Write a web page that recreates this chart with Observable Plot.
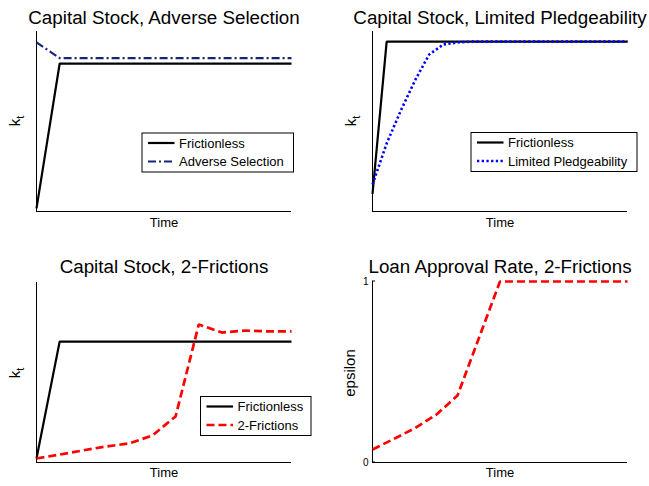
<!DOCTYPE html>
<html>
<head>
<meta charset="utf-8">
<script src="https://cdn.jsdelivr.net/npm/d3@7"></script>
<script src="https://cdn.jsdelivr.net/npm/@observablehq/plot@0.6"></script>
<style>
  body { margin: 0; background: #fff; }
  #wrap { position: relative; width: 649px; height: 486px; font-family: "Liberation Sans", Arial, Helvetica, sans-serif; }
  .panel { position: absolute; }
</style>
</head>
<body>
<div id="wrap"></div>
<script>
// ---- Data (normalized vertical units) ----
const time1 = [0, 1, 2, 3, 4, 5, 6, 7, 8, 9, 10, 11];
const frictionless1 = [0.017, 0.822, 0.822, 0.822, 0.822, 0.822, 0.822, 0.822, 0.822, 0.822, 0.822, 0.822];
const adverseSelection = [0.94, 0.852, 0.852, 0.852, 0.852, 0.852, 0.852, 0.852, 0.852, 0.852, 0.852, 0.852];

const time2 = [0, 1, 2, 3, 4, 5, 6, 7, 8, 9, 10, 11, 12, 13, 14, 15, 16, 17, 18];
const frictionless2 = [0.098, 0.944, 0.944, 0.944, 0.944, 0.944, 0.944, 0.944, 0.944, 0.944, 0.944, 0.944, 0.944, 0.944, 0.944, 0.944, 0.944, 0.944, 0.944];
const limitedPledgeability = [0.15, 0.378, 0.561, 0.728, 0.872, 0.928, 0.939, 0.944, 0.944, 0.944, 0.944, 0.944, 0.944, 0.944, 0.944, 0.944, 0.944, 0.944, 0.944];

const time3 = [0, 1, 2, 3, 4, 5, 6, 7, 8, 9, 10, 11];
const frictionless3 = [0.022, 0.672, 0.672, 0.672, 0.672, 0.672, 0.672, 0.672, 0.672, 0.672, 0.672, 0.672];
const twoFrictions = [0.022, 0.044, 0.067, 0.089, 0.106, 0.15, 0.256, 0.767, 0.722, 0.733, 0.728, 0.728];

const time4 = [0, 1, 2, 3, 4, 5, 6, 7, 8, 9, 10, 11, 12];
const epsilon = [0.072, 0.13, 0.19, 0.264, 0.37, 0.685, 1, 1, 1, 1, 1, 1, 1];
const epsilonTicks = [0, 1];

const titles = ["Capital Stock, Adverse Selection", "Capital Stock, Limited Pledgeability", "Capital Stock, 2-Frictions", "Loan Approval Rate, 2-Frictions"];

// ---- Styles ----
const FONT = "Liberation Sans, Arial, Helvetica, sans-serif";
const S_FRIC = {stroke: "black", strokeWidth: 2.2, strokeLinejoin: "miter", strokeLinecap: "butt"};
const S_ADV = {stroke: "#16247a", strokeWidth: 2.2, strokeDasharray: "8,3,2,3", strokeLinecap: "butt"};
const S_PLEDGE = {stroke: "#0000ff", strokeWidth: 2.6, strokeDasharray: "2.3,2.4", strokeLinecap: "butt"};
const S_TWO = {stroke: "#ff0000", strokeWidth: 2.7, strokeDasharray: "8,4", strokeLinecap: "butt", strokeLinejoin: "miter"};

const wrap = document.getElementById("wrap");

function place(svg, left, top) {
  svg.classList.add("panel");
  svg.style.left = left + "px";
  svg.style.top = top + "px";
  wrap.appendChild(svg);
}

function yLabel(svg, x, y, main, sub) {
  const t = d3.select(svg).append("text")
    .attr("transform", `translate(${x},${y}) rotate(-90)`)
    .attr("text-anchor", "middle")
    .attr("font-family", FONT)
    .attr("font-size", 15)
    .attr("fill", "black");
  t.append("tspan").text(main);
  if (sub) t.append("tspan").attr("font-size", 11).attr("dy", 4).text(sub);
}

function legend(svg, x, y, w, h, items) {
  const g = d3.select(svg).append("g").attr("text-anchor", "start");
  g.append("rect").attr("x", x + 0.5).attr("y", y + 0.5).attr("width", w).attr("height", h)
    .attr("fill", "white").attr("stroke", "black").attr("stroke-width", 1);
  items.forEach((it, i) => {
    const ry = y + 10.5 + i * 18.5;
    const s = it.style;
    g.append("line").attr("x1", x + 6.5).attr("x2", x + 33).attr("y1", ry).attr("y2", ry)
      .attr("stroke", s.stroke).attr("stroke-width", s.strokeWidth)
      .attr("stroke-dasharray", s.strokeDasharray || null).attr("stroke-linecap", "butt");
    g.append("text").attr("x", x + 37.5).attr("y", ry).attr("dy", "0.36em")
      .attr("text-anchor", "start")
      .attr("font-family", FONT).attr("font-size", 13).attr("fill", "black").text(it.label);
  });
}

function basePanel({width, height, ml, mr, mt, mb, xdom, marks, yAxisMarks = [], titleDy, timeDy, title}) {
  return Plot.plot({
    width, height,
    marginLeft: ml, marginRight: mr, marginTop: mt, marginBottom: mb,
    x: {domain: xdom, axis: null},
    y: {domain: [0, 1], axis: yAxisMarks.length ? undefined : null},
    style: {fontFamily: FONT, background: "transparent", color: "black", overflow: "visible"},
    marks: [
      Plot.ruleX([xdom[0]], {stroke: "black", strokeWidth: 1}),
      Plot.ruleY([0], {stroke: "black", strokeWidth: 1}),
      ...yAxisMarks,
      ...marks,
      Plot.text([title], {text: d => d, frameAnchor: "top", lineAnchor: "bottom", dy: titleDy, fontSize: 18.8, fill: "black"}),
      Plot.text(["Time"], {text: d => d, frameAnchor: "bottom", lineAnchor: "bottom", dy: timeDy, fontSize: 13, fill: "black"})
    ]
  });
}

// Panel 1
const p1 = basePanel({
  width: 325, height: 243, ml: 36, mr: 34, mt: 31, mb: 32, xdom: [0, 11],
  title: titles[0], titleDy: -8, timeDy: 15.5,
  marks: [
    Plot.lineY(frictionless1, {x: time1, ...S_FRIC}),
    Plot.lineY(adverseSelection, {x: time1, ...S_ADV})
  ]
});
place(p1, 0, 0);
yLabel(p1, 20, 121, "k", "t");
legend(p1, 141.5, 132.5, 151.5, 39, [{label: "Frictionless", style: S_FRIC}, {label: "Adverse Selection", style: S_ADV}]);

// Panel 2
const p2 = basePanel({
  width: 324, height: 243, ml: 47, mr: 22, mt: 31, mb: 32, xdom: [0, 18],
  title: titles[1], titleDy: -8, timeDy: 15.5,
  marks: [
    Plot.lineY(frictionless2, {x: time2, ...S_FRIC}),
    Plot.lineY(limitedPledgeability, {x: time2, ...S_PLEDGE})
  ]
});
place(p2, 325, 0);
yLabel(p2, 31, 121, "k", "t");
legend(p2, 145.5, 132, 166, 39, [{label: "Frictionless", style: S_FRIC}, {label: "Limited Pledgeability", style: S_PLEDGE}]);

// Panel 3
const p3 = basePanel({
  width: 325, height: 243, ml: 36, mr: 34, mt: 39, mb: 24, xdom: [0, 11],
  title: titles[2], titleDy: -10, timeDy: 14,
  marks: [
    Plot.lineY(frictionless3, {x: time3, ...S_FRIC}),
    Plot.lineY(twoFrictions, {x: time3, ...S_TWO})
  ]
});
place(p3, 0, 243);
yLabel(p3, 20, 130, "k", "t");
legend(p3, 200, 153, 110.5, 39, [{label: "Frictionless", style: S_FRIC}, {label: "2-Frictions", style: S_TWO}]);

// Panel 4
const p4 = basePanel({
  width: 324, height: 243, ml: 47, mr: 22, mt: 38, mb: 24, xdom: [0, 12],
  title: titles[3], titleDy: -9, timeDy: 14,
  yAxisMarks: [Plot.axisY({ticks: epsilonTicks, tickSize: 0, tickPadding: 4, fontSize: 10, label: null, tickFormat: d => String(d)})],
  marks: [
    Plot.lineY(epsilon, {x: time4, ...S_TWO})
  ]
});
place(p4, 325, 243);
{
  const ys = p4.scale("y");
  const g = d3.select(p4).append("g");
  epsilonTicks.forEach(v => {
    const py = ys.apply(v);
    g.append("line").attr("x1", 47).attr("x2", 50).attr("y1", py).attr("y2", py).attr("stroke", "black").attr("stroke-width", 1);
  });
}
yLabel(p4, 30, 130, "epsilon");
</script>
</body>
</html>
